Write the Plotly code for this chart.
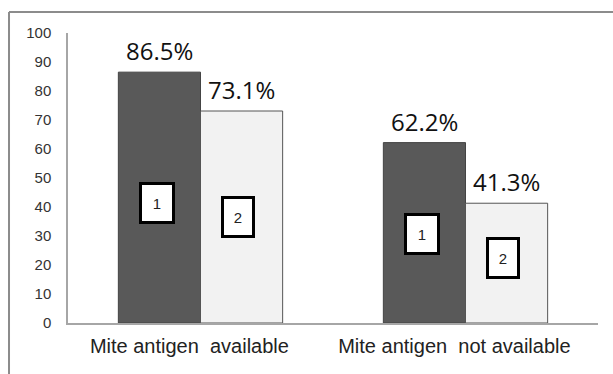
import plotly.graph_objects as go

categories = ["Mite antigen  available", "Mite antigen  not available"]
group1_values = [86.5, 62.2]
group2_values = [73.1, 41.3]
value_labels1 = ["86.5%", "62.2%"]
value_labels2 = ["73.1%", "41.3%"]
box_labels = ["1", "2"]
y_ticks = [0, 10, 20, 30, 40, 50, 60, 70, 80, 90, 100]

# positions of the numbered boxes (data units on y)
box_y1 = [41.3, 30.8]
box_y2 = [36.4, 22.5]

fig = go.Figure()
fig.add_trace(go.Bar(x=categories, y=group1_values, marker=dict(color="#595959", line=dict(color="#444444", width=1)), showlegend=False))
fig.add_trace(go.Bar(x=categories, y=group2_values, marker=dict(color="#f2f2f2", line=dict(color="#555555", width=1)), showlegend=False))

ann = []
for i, c in enumerate(categories):
    ann.append(dict(x=c, y=group1_values[i], xref="x", yref="y", text=value_labels1[i], showarrow=False,
                    xshift=-41, yshift=3, yanchor="bottom", font=dict(family="Open Sans", size=24, color="#111111")))
    ann.append(dict(x=c, y=group2_values[i], xref="x", yref="y", text=value_labels2[i], showarrow=False,
                    xshift=41, yshift=3, yanchor="bottom", font=dict(family="Open Sans", size=24, color="#111111")))
    ann.append(dict(x=c, y=box_y1[i], xref="x", yref="y", text=box_labels[0], showarrow=False,
                    xshift=-44, bgcolor="white", bordercolor="black", borderwidth=3, borderpad=0,
                    width=30, height=36, font=dict(family="Arial", size=15, color="#222222")))
    ann.append(dict(x=c, y=box_y2[i], xref="x", yref="y", text=box_labels[1], showarrow=False,
                    xshift=37, bgcolor="white", bordercolor="black", borderwidth=3, borderpad=0,
                    width=28, height=36, font=dict(family="Arial", size=15, color="#222222")))

fig.update_layout(
    width=613, height=374,
    margin=dict(l=68, r=15, t=33, b=51),
    paper_bgcolor="white", plot_bgcolor="white",
    barmode="group", bargap=0.38, bargroupgap=0,
    annotations=ann,
    shapes=[
        dict(type="line", xref="paper", yref="paper", x0=-0.1113, x1=-0.1113, y0=1.0724, y1=-0.3,
             line=dict(color="#8c8c8c", width=2)),
        dict(type="line", xref="paper", yref="paper", x0=-0.1113, x1=1.1, y0=1.0724, y1=1.0724,
             line=dict(color="#8c8c8c", width=2)),
    ],
)
fig.update_xaxes(
    tickvals=categories,
    ticktext=[c.replace(" ", "\u00a0") + "\u00a0" * 4 for c in categories],
    showline=True, linecolor="#a6a6a6", linewidth=1.5,
    ticks="", ticklabelstandoff=4, automargin=False,
    tickfont=dict(family="Arial", size=20, color="#222222"),
    showgrid=False, zeroline=False,
)
fig.update_yaxes(
    range=[0, 100], tickvals=y_ticks,
    showline=True, linecolor="#a6a6a6", linewidth=1.5,
    ticks="", ticklabelstandoff=12, automargin=False,
    tickfont=dict(family="Arial", size=15, color="#333333"),
    showgrid=False, zeroline=False,
)

fig.write_html("out.html", config={"displayModeBar": False},
               post_script="document.body.style.margin='0';document.body.style.overflow='hidden';")
